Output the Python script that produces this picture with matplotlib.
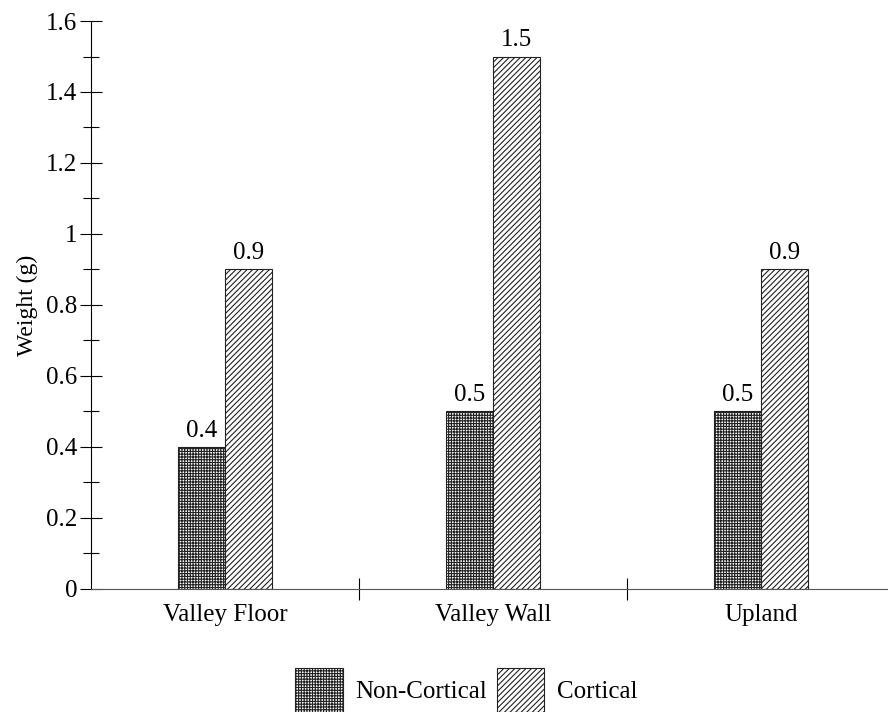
import matplotlib.pyplot as plt
from matplotlib.ticker import MultipleLocator, FixedLocator, NullFormatter, FuncFormatter
from matplotlib.patches import Patch

plt.rcParams['font.family'] = ['Liberation Serif', 'DejaVu Serif']
plt.rcParams['hatch.linewidth'] = 0.8
plt.rcParams['hatch.color'] = '#555555'

categories = ["Valley Floor", "Valley Wall", "Upland"]
non_cortical = [0.4, 0.5, 0.5]
cortical = [0.9, 1.5, 0.9]

fig = plt.figure(figsize=(8.88, 7.12), dpi=100)
ax = fig.add_axes([0.1025, 0.1728, 0.905, 0.7977])

w = 0.175
x = list(range(len(categories)))
b1 = ax.bar([i - w / 2 for i in x], non_cortical, w, color="white", edgecolor="#222222",
            hatch="++++++", linewidth=0.8)
b2 = ax.bar([i + w / 2 for i in x], cortical, w, color="white", edgecolor="#222222",
            hatch="//////", linewidth=0.8)

for bars, vals in ((b1, non_cortical), (b2, cortical)):
    for bar, v in zip(bars, vals):
        ax.text(bar.get_x() + bar.get_width() / 2, v + 0.015, f"{v:g}",
                ha="center", va="bottom", fontsize=18)

ax.set_xlim(-0.5, 2.5)
ax.set_ylim(0, 1.6)
ax.yaxis.set_major_locator(MultipleLocator(0.2))
ax.yaxis.set_minor_locator(MultipleLocator(0.1))
ax.yaxis.set_major_formatter(FuncFormatter(lambda v, p: f"{round(v, 1):g}"))
ax.tick_params(axis="y", which="major", direction="inout", length=16, width=0.8,
               labelsize=18, pad=2)
ax.tick_params(axis="y", which="minor", direction="inout", length=11, width=0.8)

ax.set_xticks(x)
ax.set_xticklabels(categories)
ax.xaxis.set_minor_locator(FixedLocator([0.5, 1.5]))
ax.xaxis.set_minor_formatter(NullFormatter())
ax.tick_params(axis="x", which="major", length=0, labelsize=18, pad=11)
ax.tick_params(axis="x", which="minor", direction="inout", length=16, width=0.8)

ax.spines["top"].set_visible(False)
ax.spines["right"].set_visible(False)
ax.spines["left"].set_linewidth(0.8)
ax.spines["bottom"].set_linewidth(0.8)
ax.spines["bottom"].set_color("#555555")

ax.set_ylabel("Weight (g)", fontsize=17, labelpad=6)

handles = [Patch(facecolor="white", edgecolor="#222222", hatch="++++++", linewidth=0.8),
           Patch(facecolor="white", edgecolor="#222222", hatch="//////", linewidth=0.8)]
fig.legend(handles, ["Non-Cortical", "Cortical"], loc="center",
           bbox_to_anchor=(0.525, 0.031), ncol=2, frameon=False, fontsize=18,
           handlelength=1.9, handleheight=2.3, columnspacing=0.4, handletextpad=0.5,
           borderpad=0)

fig.savefig("out.png", dpi=100)
